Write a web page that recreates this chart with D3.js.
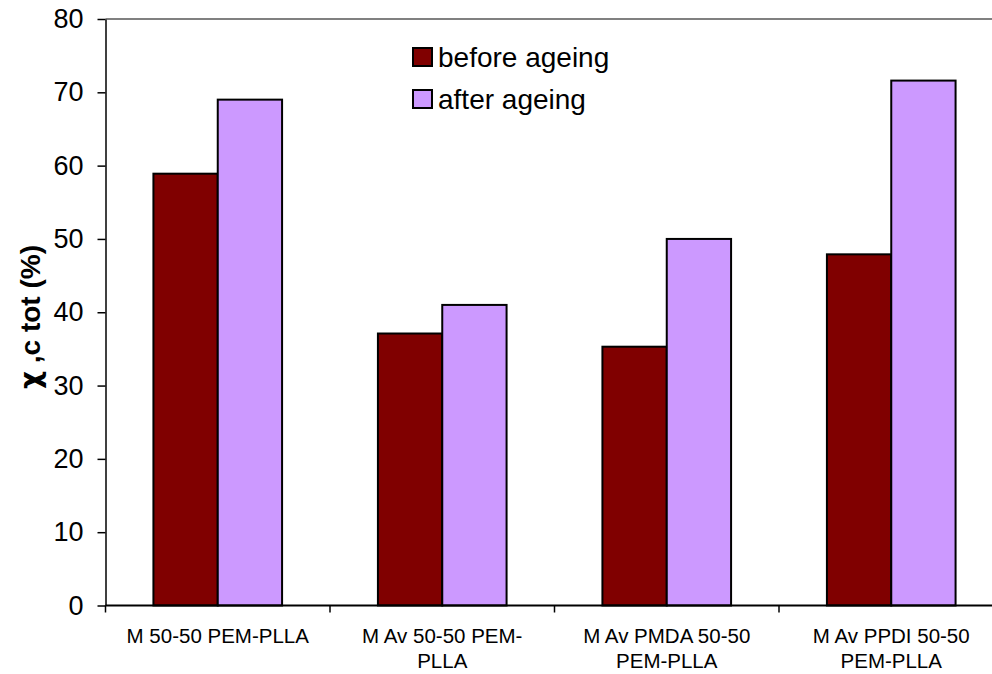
<!DOCTYPE html>
<html>
<head>
<meta charset="utf-8">
<script src="https://cdn.jsdelivr.net/npm/d3@7"></script>
<style>
  body { margin: 0; background: #fff; }
  svg { display: block; font-family: "Liberation Sans", Arial, sans-serif; }
</style>
</head>
<body>
<svg id="chart" width="992" height="674"></svg>
<script>
// Data
const categories = [
  ["M 50-50 PEM-PLLA"],
  ["M Av 50-50 PEM-", "PLLA"],
  ["M Av PMDA 50-50", "PEM-PLLA"],
  ["M Av PPDI 50-50", "PEM-PLLA"]
];
const seriesNames = ["before ageing", "after ageing"];
const seriesColors = ["#800000", "#cc99ff"];
const beforeAgeing = [58.9, 37.1, 35.3, 47.9];
const afterAgeing = [69.0, 41.0, 50.0, 71.6];
const yTicks = [0, 10, 20, 30, 40, 50, 60, 70, 80];

const svg = d3.select('#chart');
const plotL = 105.5, plotR = 1003.5, plotT = 19, plotB = 605.5;

const x0 = d3.scaleBand()
  .domain(d3.range(categories.length))
  .range([plotL, plotR])
  .padding(0);
const x1 = d3.scaleBand()
  .domain(d3.range(seriesNames.length))
  .range([0, x0.bandwidth()])
  .paddingInner(0)
  .paddingOuter(0.745);
const y = d3.scaleLinear().domain([0, 80]).range([plotB, plotT]);

// top border of plot area
svg.append('line')
  .attr('x1', plotL).attr('x2', plotR)
  .attr('y1', y(80)).attr('y2', y(80))
  .attr('stroke', '#808080').attr('stroke-width', 2);

// bars
const values = [beforeAgeing, afterAgeing];
values.forEach(function(vals, s) {
  svg.append('g').selectAll('rect')
    .data(vals)
    .join('rect')
    .attr('x', (d, i) => x0(i) + x1(s))
    .attr('y', d => y(d))
    .attr('width', x1.bandwidth())
    .attr('height', d => y(0) - y(d))
    .attr('fill', seriesColors[s])
    .attr('stroke', '#000')
    .attr('stroke-width', 2);
});

// y axis
const yAxis = svg.append('g')
  .attr('transform', 'translate(' + plotL + ',0)')
  .call(d3.axisLeft(y).tickValues(yTicks).tickSize(8).tickPadding(14).tickSizeOuter(0));
yAxis.select('.domain').attr('stroke', '#000').attr('stroke-width', 1.5);
yAxis.selectAll('.tick line').attr('stroke', '#000').attr('stroke-width', 1.5);
yAxis.selectAll('.tick text')
  .attr('font-family', '"Liberation Sans", Arial, sans-serif')
  .attr('font-size', 27).attr('fill', '#000');

// x axis: line + ticks at category boundaries
svg.append('line')
  .attr('x1', plotL).attr('x2', plotR)
  .attr('y1', plotB).attr('y2', plotB)
  .attr('stroke', '#000').attr('stroke-width', 2);
svg.append('g').selectAll('line')
  .data(d3.range(categories.length + 1))
  .join('line')
  .attr('x1', i => plotL + i * x0.step()).attr('x2', i => plotL + i * x0.step())
  .attr('y1', plotB).attr('y2', plotB + 7)
  .attr('stroke', '#000').attr('stroke-width', 1.5);

// category labels
const labels = svg.append('g').selectAll('text')
  .data(categories)
  .join('text')
  .attr('x', (d, i) => x0(i) + x0.bandwidth() / 2)
  .attr('y', 643)
  .attr('text-anchor', 'middle')
  .attr('font-size', 20.5)
  .attr('fill', '#000');
labels.selectAll('tspan')
  .data(d => d)
  .join('tspan')
  .attr('x', function() { return this.parentNode.getAttribute('x'); })
  .attr('dy', (d, i) => i === 0 ? 0 : 25)
  .text(d => d);

// y axis title
const yTitle = svg.append('text')
  .attr('transform', 'translate(40,' + 317 + ') rotate(-90)')
  .attr('text-anchor', 'middle')
  .attr('font-size', 28)
  .attr('font-weight', 'bold');
yTitle.append('tspan').attr('font-family', '"DejaVu Sans", sans-serif').text('χ');
yTitle.append('tspan').text(' ,c tot (%)');

// legend
const legend = svg.append('g').selectAll('g')
  .data(seriesNames)
  .join('g')
  .attr('transform', (d, i) => 'translate(413,' + (48 + i * 42) + ')');
legend.append('rect')
  .attr('width', 19).attr('height', 18)
  .attr('fill', (d, i) => seriesColors[i])
  .attr('stroke', '#000').attr('stroke-width', 2);
legend.append('text')
  .attr('x', 25).attr('y', 19)
  .attr('font-size', 28)
  .text(d => d);
</script>
</body>
</html>
